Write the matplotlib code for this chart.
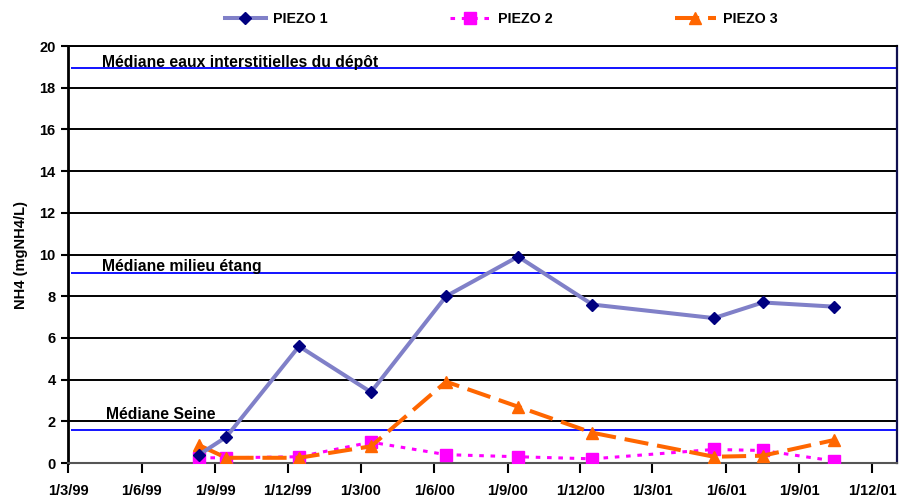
import matplotlib
matplotlib.use("Agg")
import matplotlib.pyplot as plt
import pandas as pd

plt.rcParams['font.family'] = ['Liberation Sans', 'DejaVu Sans']

# ---- data ----
p1_dates = ["1999-08-12", "1999-09-15", "1999-12-15", "2000-03-14", "2000-06-16",
            "2000-09-14", "2000-12-16", "2001-05-17", "2001-07-17", "2001-10-14"]
p1_values = [0.4, 1.25, 5.6, 3.4, 8.0, 9.9, 7.6, 6.95, 7.7, 7.5]

p2_dates = ["1999-08-12", "1999-09-15", "1999-12-15", "2000-03-14", "2000-06-16",
            "2000-09-14", "2000-12-16", "2001-05-17", "2001-07-17", "2001-10-14"]
p2_values = [0.25, 0.25, 0.3, 1.0, 0.4, 0.3, 0.2, 0.65, 0.6, 0.1]

p3_dates = ["1999-08-12", "1999-09-15", "1999-12-15", "2000-03-14", "2000-06-16",
            "2000-09-14", "2000-12-16", "2001-05-17", "2001-07-17", "2001-10-14"]
p3_values = [0.85, 0.25, 0.25, 0.8, 3.9, 2.7, 1.45, 0.3, 0.35, 1.1]

median_labels = ["Médiane eaux interstitielles du dépôt", "Médiane milieu étang", "Médiane Seine"]
median_values = [18.95, 9.1, 1.6]
median_label_y = [19.0, 9.22, 2.12]

x_ticks = ["1999-03-01", "1999-06-01", "1999-09-01", "1999-12-01", "2000-03-01", "2000-06-01",
           "2000-09-01", "2000-12-01", "2001-03-01", "2001-06-01", "2001-09-01", "2001-12-01"]
x_tick_labels = ["1/3/99", "1/6/99", "1/9/99", "1/12/99", "1/3/00", "1/6/00",
                 "1/9/00", "1/12/00", "1/3/01", "1/6/01", "1/9/01", "1/12/01"]
y_ticks = [0, 2, 4, 6, 8, 10, 12, 14, 16, 18, 20]

# ---- figure ----
fig = plt.figure(figsize=(9.13, 4.97), dpi=100)
ax = fig.add_axes([0.0745, 0.0684, 0.908, 0.8390])

xmin = pd.Timestamp("1999-03-01")
xmax = pd.Timestamp("2002-01-01")

for y in y_ticks[1:]:
    ax.axhline(y, color='black', lw=1.4, zorder=1)

med_start = pd.Timestamp("1999-03-05")
med_text_x = pd.Timestamp("1999-04-13")
for lab, v, ty in zip(median_labels, median_values, median_label_y):
    ax.hlines(v, med_start, xmax, color='#0000FF', lw=1.3, zorder=2)
    tx = med_text_x if 'Seine' not in lab else pd.Timestamp("1999-04-18")
    ax.text(tx, ty, lab, fontsize=11.3, fontweight='bold', va='baseline', ha='left', zorder=3)

ax.plot(pd.to_datetime(p1_dates), p1_values, color='#8080C8', lw=2.9, marker='D',
        ms=6.5, mfc='#000080', mec='#000080', label='PIEZO 1', zorder=5)
ax.plot(pd.to_datetime(p2_dates), p2_values, color='#FF00FF', lw=2.2, ls=(0, (1.5, 2.2)),
        marker='s', ms=9, mfc='#FF00FF', mec='#FF00FF', label='PIEZO 2', zorder=4)
ax.plot(pd.to_datetime(p3_dates), p3_values, color='#FF6600', lw=2.9, ls=(0, (6, 2.2)),
        marker='^', ms=9, mfc='#FF6600', mec='#FF6600', label='PIEZO 3', zorder=4)

ax.set_xlim(xmin, xmax)
ax.set_ylim(0, 20)
ax.set_yticks(y_ticks)
ax.set_yticklabels([str(v) for v in y_ticks], fontsize=10.5, fontweight='bold')
ax.set_xticks(pd.to_datetime(x_ticks))
ax.set_xticklabels(x_tick_labels, fontsize=10.5, fontweight='bold')
ax.tick_params(axis='x', direction='out', length=7, width=1.5, pad=8)
ax.tick_params(axis='y', direction='out', length=5, width=1.5, pad=4)

ax.spines['left'].set_linewidth(2)
ax.spines['bottom'].set_linewidth(1.5)
ax.spines['bottom'].set_color('#555555')
ax.spines['top'].set_linewidth(1.4)
ax.spines['right'].set_linewidth(1.6)
ax.spines['right'].set_color('#101050')

ax.set_ylabel("NH4 (mgNH4/L)", fontsize=10.5, fontweight='bold', labelpad=8)

fig.legend(loc='center', bbox_to_anchor=(0.549, 0.962), ncol=3, frameon=False,
           prop={'weight': 'bold', 'size': 10.3}, handlelength=2.9, columnspacing=8.5,
           handletextpad=0.5)

fig.savefig("out.png", dpi=100)
